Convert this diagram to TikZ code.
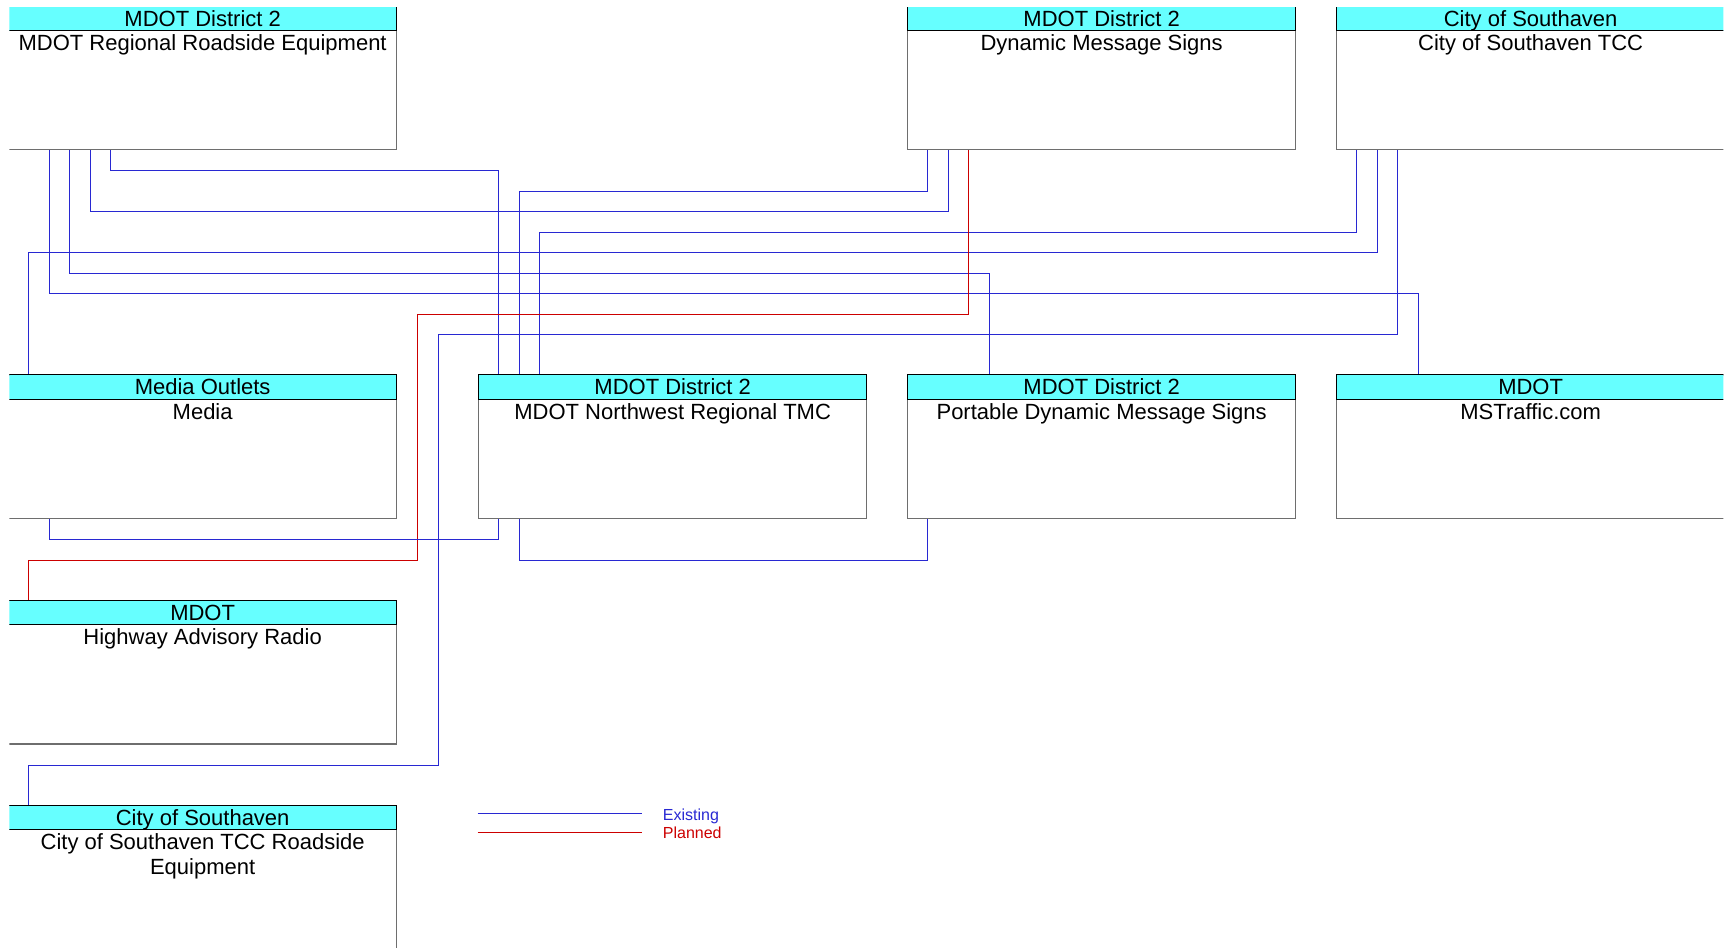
\documentclass[tikz,border=0pt]{standalone}
\usepackage{fontspec}
\setmainfont{Liberation Sans}
\usetikzlibrary{calc}
\definecolor{existblue}{RGB}{40,40,210}
\definecolor{planred}{RGB}{204,0,0}
\definecolor{headcyan}{RGB}{102,255,255}
\definecolor{boxgray}{RGB}{110,110,110}
\newcommand{\gap}{20.5}
\newcommand{\boxfont}{\fontsize{22}{24.5}\selectfont}
\begin{document}
\begin{tikzpicture}[x=1pt, y=-1pt,
    sysbox/.style={draw=boxgray, line width=1.3pt, minimum width=388pt, minimum height=143.4pt, anchor=north west, inner sep=0pt},
    syshead/.style={draw=black, fill=headcyan, line width=1pt, minimum width=388pt, minimum height=24.4pt, anchor=north, inner sep=0pt, text height=15.8pt, text depth=0pt, font=\boxfont},
    systext/.style={anchor=base, align=center, inner sep=0pt, font=\boxfont},
    exist/.style={draw=existblue, line width=1pt},
    plan/.style={draw=planred, line width=1pt},
    legtext/.style={anchor=west, inner sep=0pt, text height=11.7pt, text depth=0pt, font=\fontsize{16}{18}\selectfont}]
    \useasboundingbox (0,0) rectangle (1724,948);
    \clip (9.3,7) rectangle (1723.3,947.3);
    \node[sysbox] (rre) at (8,5.6) {};
    \node[sysbox] (dms) at (907,5.6) {};
    \node[sysbox] (tcc) at (1336,5.6) {};
    \node[sysbox] (media) at (8,374.3) {};
    \node[sysbox] (tmc) at (478,374.3) {};
    \node[sysbox] (pdms) at (907,374.3) {};
    \node[sysbox] (mst) at (1336,374.3) {};
    \node[sysbox] (har) at (8,600) {};
    \node[sysbox] (rse) at (8,805) {};
    \node[syshead] (rreh) at (rre.north) {MDOT District 2};
    \node[syshead] (dmsh) at (dms.north) {MDOT District 2};
    \node[syshead] (tcch) at (tcc.north) {City of Southaven};
    \node[syshead] (mediah) at (media.north) {Media Outlets};
    \node[syshead] (tmch) at (tmc.north) {MDOT District 2};
    \node[syshead] (pdmsh) at (pdms.north) {MDOT District 2};
    \node[syshead] (msth) at (mst.north) {MDOT};
    \node[syshead] (harh) at (har.north) {MDOT};
    \node[syshead] (rseh) at (rse.north) {City of Southaven};
    \node[systext] (rret) at ([yshift=-19.5pt]rreh.south) {MDOT Regional Roadside Equipment};
    \node[systext] (dmst) at ([yshift=-19.5pt]dmsh.south) {Dynamic Message Signs};
    \node[systext] (tcct) at ([yshift=-19.5pt]tcch.south) {City of Southaven TCC};
    \node[systext] (mediat) at ([yshift=-19.5pt]mediah.south) {Media};
    \node[systext] (tmct) at ([yshift=-19.5pt]tmch.south) {MDOT Northwest Regional TMC};
    \node[systext] (pdmst) at ([yshift=-19.5pt]pdmsh.south) {Portable Dynamic Message Signs};
    \node[systext] (mstt) at ([yshift=-19.5pt]msth.south) {MSTraffic.com};
    \node[systext] (hart) at ([yshift=-19.5pt]harh.south) {Highway Advisory Radio};
    \node[systext] (rset) at ([yshift=-44pt]rseh.south) {City of Southaven TCC Roadside\\Equipment};
    \draw[exist] ([xshift=5*\gap pt]rre.south west) -- ++(0,\gap) -| ([xshift=\gap pt]tmc.north west);
    \draw[exist] ([xshift=\gap pt]dms.south west) -- ++(0,2*\gap) -| ([xshift=2*\gap pt]tmc.north west);
    \draw[exist] ([xshift=4*\gap pt]rre.south west) -- ++(0,3*\gap) -| ([xshift=2*\gap pt]dms.south west);
    \draw[exist] ([xshift=\gap pt]tcc.south west) -- ++(0,4*\gap) -| ([xshift=3*\gap pt]tmc.north west);
    \draw[exist] ([xshift=2*\gap pt]tcc.south west) -- ++(0,5*\gap) -| ([xshift=\gap pt]media.north west);
    \draw[exist] ([xshift=3*\gap pt]rre.south west) -- ++(0,6*\gap) -| ([xshift=4*\gap pt]pdms.north west);
    \draw[exist] ([xshift=2*\gap pt]rre.south west) -- ++(0,7*\gap) -| ([xshift=4*\gap pt]mst.north west);
    \draw[plan] ([xshift=3*\gap pt]dms.south west) -- ++(0,8*\gap) -| ($(media.south east)+(\gap,2*\gap)$) -| ([xshift=\gap pt]har.north west);
    \draw[exist] ([xshift=3*\gap pt]tcc.south west) -- ++(0,9*\gap) -| ($(har.south east)+(2*\gap,\gap)$) -| ([xshift=\gap pt]rse.north west);
    \draw[exist] ([xshift=2*\gap pt]media.south west) -- ++(0,\gap) -| ([xshift=\gap pt]tmc.south west);
    \draw[exist] ([xshift=2*\gap pt]tmc.south west) -- ++(0,2*\gap) -| ([xshift=\gap pt]pdms.south west);
    \node[legtext, text=existblue] (lgexist) at (662.7,814.5) {Existing};
    \node[legtext, text=planred] (lgplan) at (662.7,832.3) {Planned};
    \draw[exist] (477.7,813.7) -- ++(164,0);
    \draw[plan] (477.7,832.3) -- ++(164,0);
\end{tikzpicture}
\end{document}
